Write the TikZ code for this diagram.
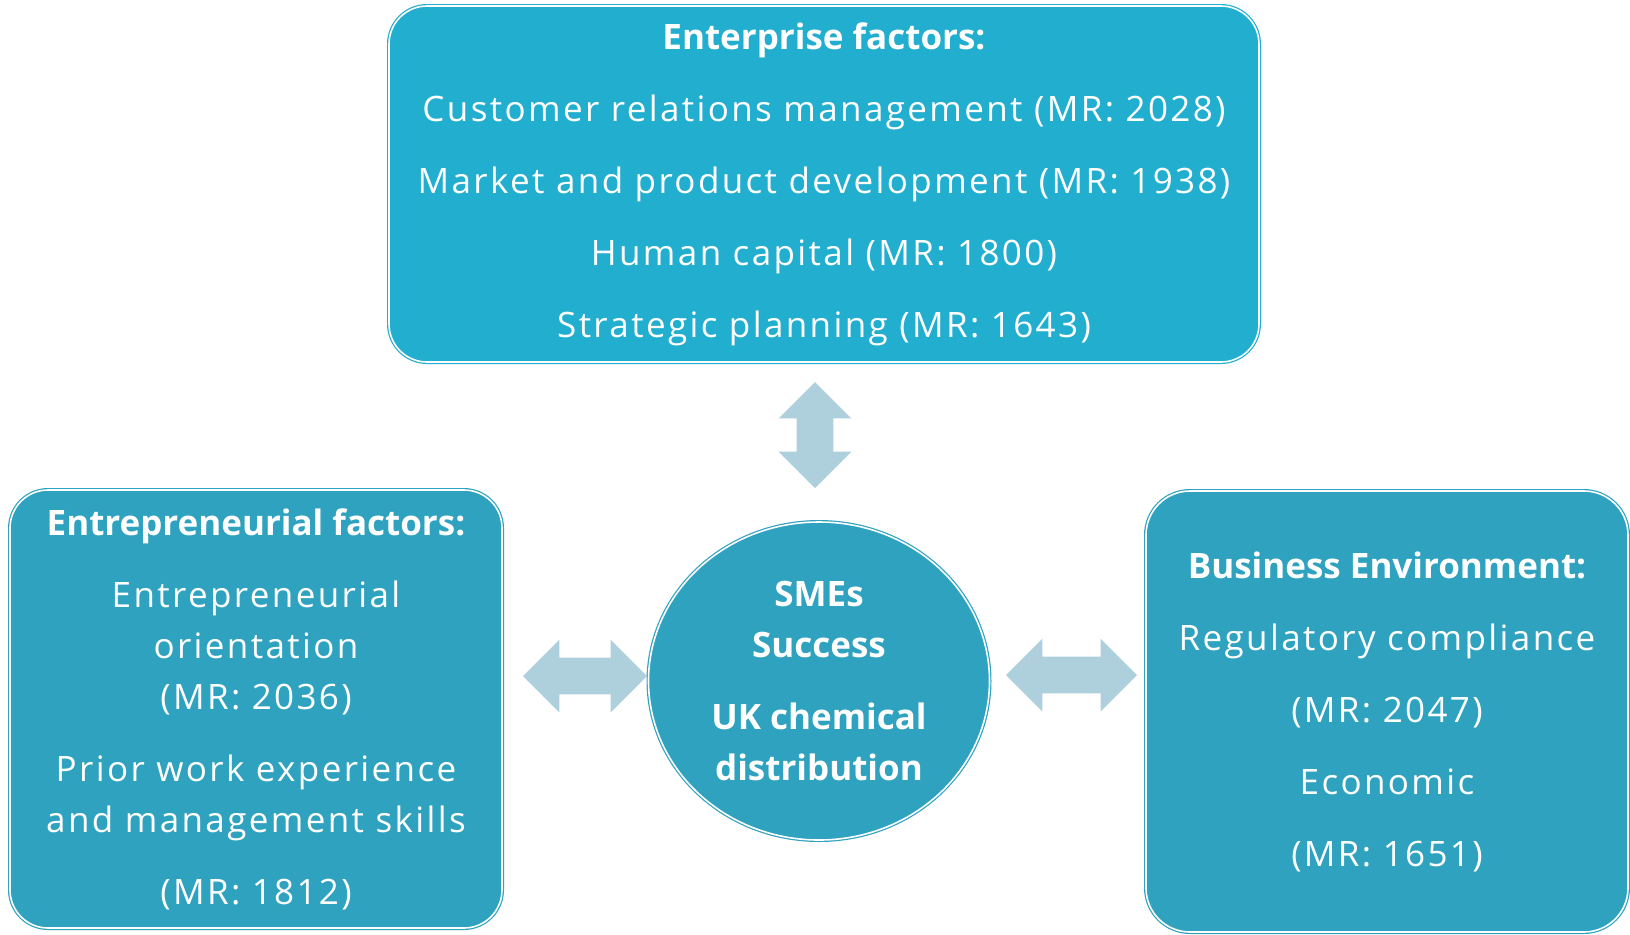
\documentclass[tikz,border=0pt]{standalone}
\usepackage{fontspec}
\setmainfont{Open Sans}[UprightFeatures={LetterSpace=6.8}]
\usetikzlibrary{shapes.geometric,shapes.arrows}

\definecolor{topteal}{HTML}{22AECF}
\definecolor{boxteal}{HTML}{2EA2BF}
\definecolor{arrowblue}{HTML}{AECFDC}

\tikzset{
  factorbox/.style={rounded corners=19pt, draw=#1, fill=#1, double=white,
    double distance=0.8pt, line width=0.6pt, text=white, align=center,
    font=\fontsize{17.5}{25.5}\selectfont, inner sep=0pt},
  linkarrow/.style={double arrow, fill=arrowblue, draw=none,
    inner xsep=0pt, inner ysep=9pt, minimum width=0pt,
    double arrow head extend=9pt, double arrow tip angle=90}
}

\begin{document}
\begin{tikzpicture}[x=0.5pt,y=-0.5pt]
  \useasboundingbox (0,0) rectangle (1630,934);

  % the three groups of factors
  \node[factorbox=topteal, minimum width=435pt, minimum height=178pt]
    (enterprise) at (824,184)
    {\textbf{Enterprise factors:}\\[10.5pt]
     Customer relations management (MR: 2028)\\[10.5pt]
     Market and product development (MR: 1938)\\[10.5pt]
     Human capital (MR: 1800)\\[10.5pt]
     Strategic planning (MR: 1643)};
  \node[factorbox=boxteal, minimum width=246pt, minimum height=219pt]
    (entrepreneur) at (256,709)
    {\textbf{Entrepreneurial factors:}\\[10.5pt]
     Entrepreneurial\\ orientation\\ (MR: 2036)\\[10.5pt]
     Prior work experience\\ and management skills\\[10.5pt]
     (MR: 1812)};
  \node[factorbox=boxteal, rounded corners=22pt, minimum width=241pt, minimum height=220.5pt]
    (environment) at (1387,711.5)
    {\textbf{Business Environment:}\\[10.5pt]
     Regulatory compliance\\[10.5pt]
     (MR: 2047)\\[10.5pt]
     Economic\\[10.5pt]
     (MR: 1651)};

  % success in the middle
  \node[factorbox=boxteal, ellipse, minimum width=170.5pt, minimum height=159pt,
    font=\fontsize{17.5}{25.5}\selectfont\bfseries]
    (success) at (819,681)
    {SMEs\\ Success\\[10.5pt] UK chemical\\ distribution};

  % links between them
  \node[linkarrow, rotate=90, minimum height=53pt] (uplink) at (815,435) {};
  \node[linkarrow, minimum height=62pt] (leftlink) at (585,676) {};
  \node[linkarrow, minimum height=65.5pt] (rightlink) at (1071.5,675) {};
\end{tikzpicture}
\end{document}
